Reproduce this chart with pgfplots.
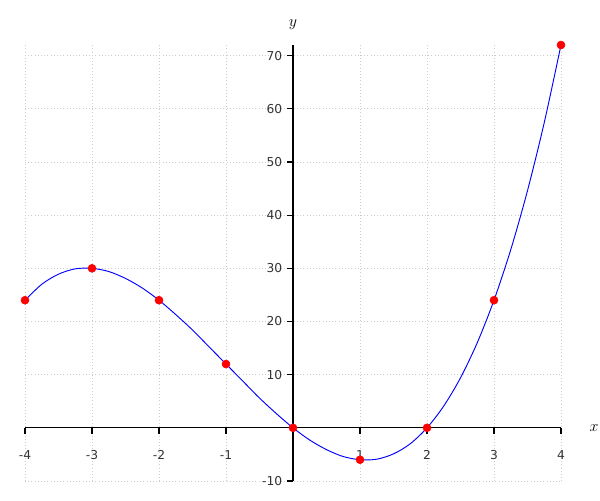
\documentclass[border=0pt]{standalone}
\usepackage{pgfplots}
\pgfplotsset{compat=1.18}
\usepackage{fontspec}
\setmainfont{DejaVu Sans}
\begin{document}
\begin{tikzpicture}[x=0.75pt,y=0.75pt]
\path[use as bounding box] (-25,-19) rectangle (575,481);
\begin{axis}[
  at={(0,0)}, anchor=south west,
  scale only axis,
  width=402pt, height=327pt,
  xmin=-4, xmax=4, ymin=-10, ymax=72,
  axis lines=middle,
  axis line style={-, black, line width=0.8pt},
  xtick={-4,-3,-2,-1,1,2,3,4},
  ytick={-10,10,20,30,40,50,60,70},
  tick align=outside,
  major tick length=4.5pt,
  tick style={black, line width=0.8pt},
  grid=major,
  major grid style={dotted, gray!40, line width=0.6pt},
  every tick label/.style={font=\fontsize{9.2}{11}\selectfont, text=black!80},
  xticklabel style={yshift=-9pt},
  /pgf/number format/assume math mode=true,
  clip=false,
  xlabel={$x$}, ylabel={$y$},
  xlabel style={at={(axis cs:4,0)}, anchor=west, xshift=18pt, font=\fontsize{12}{14}\selectfont},
  ylabel style={at={(axis cs:0,72)}, anchor=south, yshift=8pt, font=\fontsize{12}{14}\selectfont},
]
\addplot[blue, line width=0.7pt, smooth, no marks] coordinates {
(-4,24) (-3.75,27.0) (-3.5,28.9) (-3.25,29.9) (-3,30) (-2.75,29.4) (-2.5,28.1) (-2.25,26.3)
(-2,24) (-1.75,21.3) (-1.5,18.4) (-1.25,15.2) (-1,12) (-0.75,8.8) (-0.5,5.6) (-0.25,2.7)
(0,0) (0.25,-2.3) (0.5,-4.1) (0.75,-5.4) (1,-6) (1.25,-5.9) (1.5,-4.9) (1.75,-3.0)
(2,0) (2.25,4.1) (2.5,9.4) (2.75,16.0) (3,24) (3.25,33.5) (3.5,44.6) (3.75,57.4) (4,72)};
\addplot[only marks, mark=*, mark size=3pt, red, mark options={draw=red, fill=red}] coordinates {
(-4,24) (-3,30) (-2,24) (-1,12) (0,0) (1,-6) (2,0) (3,24) (4,72)};
\end{axis}
\end{tikzpicture}
\end{document}
